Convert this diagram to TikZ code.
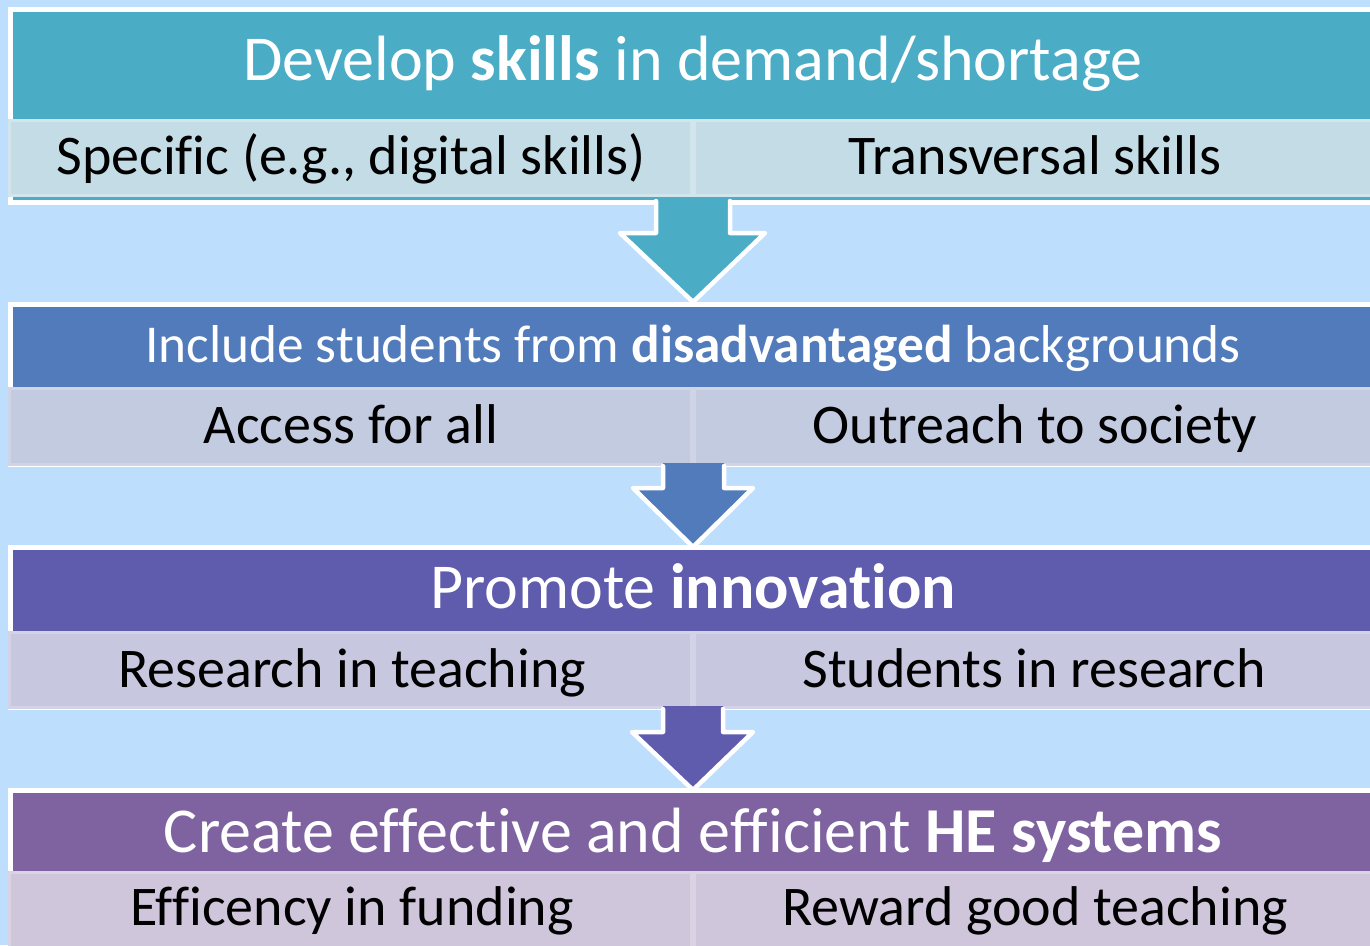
\documentclass[tikz,border=0pt]{standalone}
\usepackage{fontspec}
\setmainfont[Ligatures=NoCommon]{Carlito}
\definecolor{bg}{HTML}{BDDEFC}
\definecolor{hA}{HTML}{4BACC6}
\definecolor{sA}{HTML}{C4DCE5}
\definecolor{rA}{HTML}{D2E5EC}
\definecolor{hB}{HTML}{517BBA}
\definecolor{sB}{HTML}{C3CBE0}
\definecolor{rB}{HTML}{CFD5E7}
\definecolor{hC}{HTML}{5F5BAD}
\definecolor{sC}{HTML}{C8C7E0}
\definecolor{rC}{HTML}{D3D2E7}
\definecolor{hD}{HTML}{7F63A0}
\definecolor{sD}{HTML}{D0C6DC}
\definecolor{rD}{HTML}{DAD3E4}
\tikzset{
  htext/.style={text=white, inner sep=0pt, anchor=base},
  stext/.style={text=black, inner sep=0pt, anchor=base, font=\fontsize{56}{62}\selectfont},
  cellbox/.style={line width=3pt},
  arrowline/.style={white, line width=4.5pt, line join=round, line cap=round},
}
\begin{document}
\begin{tikzpicture}[x=1pt,y=-1pt]
\useasboundingbox (0,0) rectangle (1370,945);
\fill[bg] (0,0) rectangle (1370,945);

% ---------- Box 1 ----------
\fill[white] (8,7) rectangle (1380,205);
\fill[hA] (12.5,12) rectangle (1380,119);
\filldraw[cellbox, fill=sA, draw=rA] (9.5,120.5) rectangle (691,195.5);
\filldraw[cellbox, fill=sA, draw=rA] (694,120.5) rectangle (1380,195.5);
\fill[hA] (12.5,197) rectangle (1380,200);
\node[htext, font=\fontsize{64}{70}\selectfont] (t1) at (693,80) {Develop \textbf{skills} in demand/shortage};
\node[stext] (t1a) at (351,174) {Specific (e.g., digital skills)};
\node[stext] (t1b) at (1035,174) {Transversal skills};

% ---------- Box 2 ----------
\fill[white] (8,302) rectangle (1380,467);
\fill[hB] (12.5,307) rectangle (1380,387);
\filldraw[cellbox, fill=sB, draw=rB] (9.5,388.5) rectangle (691,464);
\filldraw[cellbox, fill=sB, draw=rB] (694,388.5) rectangle (1380,464);
\node[htext, font=\fontsize{53.3}{58}\selectfont] (t2) at (693,362) {Include students from \textbf{disadvantaged} backgrounds};
\node[stext] (t2a) at (351,443) {Access for all};
\node[stext] (t2b) at (1035,443) {Outreach to society};

% ---------- Box 3 ----------
\fill[white] (8,545) rectangle (1380,710);
\fill[hC] (12.5,550) rectangle (1380,631);
\filldraw[cellbox, fill=sC, draw=rC] (9.5,632.5) rectangle (691,707);
\filldraw[cellbox, fill=sC, draw=rC] (694,632.5) rectangle (1380,707);
\node[htext, font=\fontsize{64}{70}\selectfont] (t3) at (693,608) {Promote \textbf{innovation}};
\node[stext] (t3a) at (352,687) {Research in teaching};
\node[stext] (t3b) at (1034,687) {Students in research};

% ---------- Box 4 ----------
\fill[white] (8,788) rectangle (1380,950);
\fill[hD] (12.5,793) rectangle (1380,871);
\filldraw[cellbox, fill=sD, draw=rD] (9.5,872.5) rectangle (691,950);
\filldraw[cellbox, fill=sD, draw=rD] (694,872.5) rectangle (1380,950);
\node[htext, font=\fontsize{64}{70}\selectfont] (t4) at (693,852) {Create effective and efficient \textbf{HE systems}};
\node[stext] (t4a) at (352,925) {Efficency in funding};
\node[stext] (t4b) at (1035,925) {Reward good teaching};

% ---------- Arrows ----------
\fill[hA] (656,198) -- (656,233) -- (620,233) -- (693,302) -- (765,233) -- (730,233) -- (730,198) -- cycle;
\draw[arrowline] (656,201) -- (656,233) -- (620,233) -- (693,302) -- (765,233) -- (730,233) -- (730,201);

\fill[hB] (663,463) -- (663,488) -- (633,488) -- (693,547) -- (753,488) -- (724,488) -- (724,463) -- cycle;
\draw[arrowline] (663,466) -- (663,488) -- (633,488) -- (693,547) -- (753,488) -- (724,488) -- (724,466);

\fill[hC] (663,706) -- (663,732) -- (632,732) -- (693,790) -- (753,732) -- (723,732) -- (723,706) -- cycle;
\draw[arrowline] (663,709) -- (663,732) -- (632,732) -- (693,790) -- (753,732) -- (723,732) -- (723,709);
\end{tikzpicture}
\end{document}
